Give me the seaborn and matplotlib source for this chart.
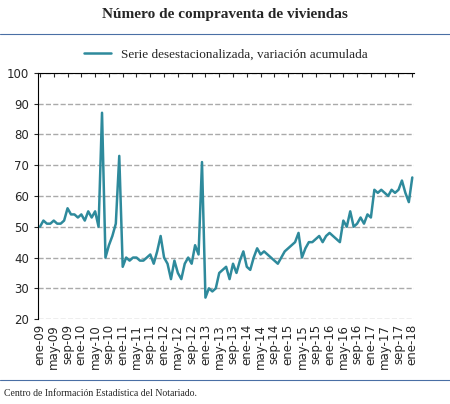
import matplotlib
matplotlib.use("Agg")
import matplotlib.pyplot as plt
import seaborn as sns
import pandas as pd

sns.set_style("white")
plt.rcParams['font.family'] = ['Liberation Serif', 'DejaVu Serif']

v2009 = [50,52,51,51,52,51,51,52,56,54,54,53]
v2010 = [54,52,55,53,55,50,87,40,44,47,51,73]
v2011 = [37,40,39,40,40,39,39,40,41,38,42,47]
v2012 = [40,38,33,39,35,33,38,40,38,44,41,71]
v2013 = [27,30,29,30,35,36,37,33,38,35,39,42]
v2014 = [37,36,40,43,41,42,41,40,39,38,40,42]
v2015 = [43,44,45,48,40,43,45,45,46,47,45,47]
v2016 = [48,47,46,45,52,50,55,50,51,53,51,54]
v2017 = [53,62,61,62,61,60,62,61,62,65,61,58]
v2018 = [66]
values = v2009+v2010+v2011+v2012+v2013+v2014+v2015+v2016+v2017+v2018
months = ["ene","may","sep"]
tick_labels = [f"{m}-{y:02d}" for y in range(9,18) for m in months] + ["ene-18"]
series_name = "Serie desestacionalizada, variación acumulada"

df = pd.DataFrame({"i": range(len(values)), "v": values})
fig = plt.figure(figsize=(4.5,4.04), dpi=100)
ax = fig.add_axes([0.085, 0.21, 0.835, 0.61])
sns.lineplot(data=df, x="i", y="v", ax=ax, color="#2E8A9C", lw=1.8, label=series_name)
ax.set_xlim(-0.5, len(values)-0.5)
ax.set_ylim(20, 100)
ax.set_yticks(range(20,101,10))
ax.set_xticks(range(0, len(values), 4))
ax.set_xticklabels(tick_labels, rotation=90, fontsize=8.5, family="DejaVu Sans")
ax.tick_params(axis='y', labelsize=8.5, left=True, length=3)
ax.tick_params(axis='x', top=True, bottom=False, length=3, direction='in')
for t in ax.get_yticklabels(): t.set_family("DejaVu Sans")
ax.set_xlabel(""); ax.set_ylabel("")
ax.grid(axis='y', ls='--', color='#AAAAAA', lw=1)
for s in ["right","bottom"]: ax.spines[s].set_visible(False)
ax.spines["left"].set_color("black"); ax.spines["top"].set_color("black")
ax.legend(loc="lower center", bbox_to_anchor=(0.5, 1.0), frameon=False, fontsize=9.5, handlelength=2)
fig.text(0.5, 0.955, "Número de compraventa de viviendas", ha="center", fontsize=11, fontweight="bold")
fig.add_artist(plt.Line2D([0.0,1.0],[0.915,0.915], color="#4A6FA5", lw=0.8))
fig.add_artist(plt.Line2D([0.0,1.0],[0.06,0.06], color="#4A6FA5", lw=0.8))
fig.text(0.01, 0.02, "Centro de Información Estadística del Notariado.", fontsize=7)
fig.savefig("out.png", dpi=100)
